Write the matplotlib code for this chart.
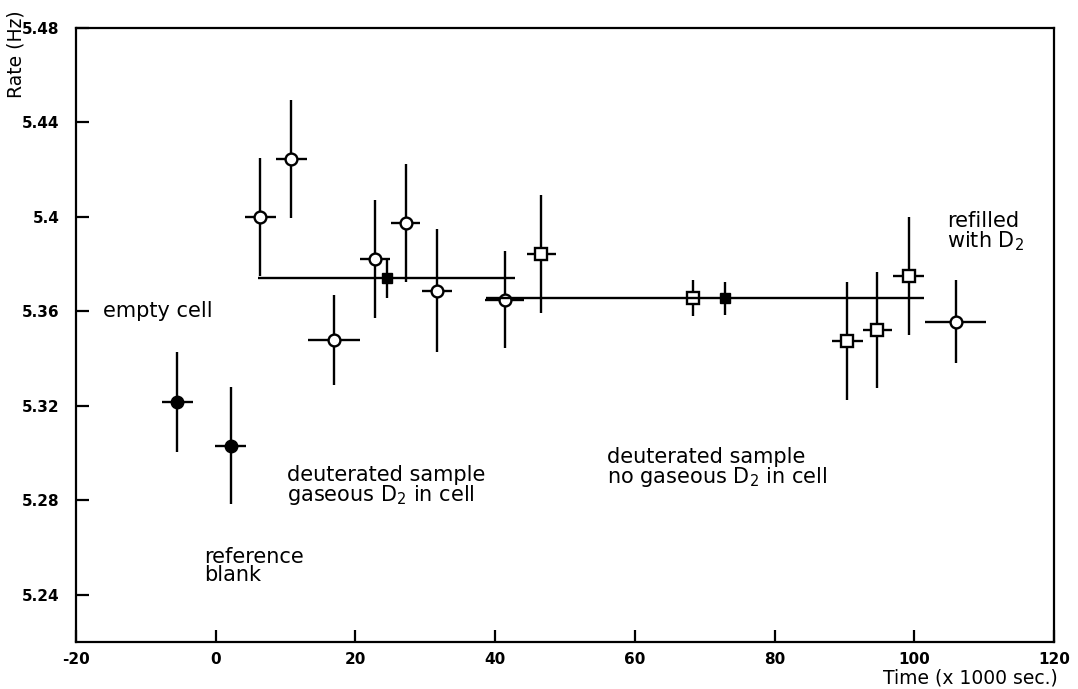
import matplotlib
matplotlib.use('Agg')
import matplotlib.pyplot as plt
import numpy as np

plt.rcParams['font.family'] = ['DejaVu Sans']
plt.rcParams['axes.unicode_minus'] = False
plt.rcParams['mathtext.default'] = 'regular'

# reference blank runs (filled)
blank_t = [-5.5, 2.15]
blank_rate = [5.3216, 5.3032]
blank_rerr = [0.021, 0.0247]
blank_terr = [2.25, 2.2]

# deuterated sample, gaseous D2 in cell (open circles)
gas_t = [6.4, 10.8, 16.9, 22.8, 27.2, 31.7, 41.4]
gas_rate = [5.400, 5.4245, 5.348, 5.3822, 5.3975, 5.3687, 5.3649]
gas_rerr = [0.025, 0.0248, 0.019, 0.025, 0.025, 0.026, 0.0205]
gas_terr = [2.2, 2.2, 3.75, 2.1, 2.1, 2.1, 2.8]

# deuterated sample, no gaseous D2 (open squares)
nogas_t = [46.6, 68.3, 90.4, 94.7, 99.2]
nogas_rate = [5.3843, 5.3657, 5.3473, 5.3522, 5.375]
nogas_rerr = [0.025, 0.0078, 0.025, 0.0246, 0.025]
nogas_terr = [2.1, 1.0, 2.2, 2.1, 2.2]

# refilled with D2
refill_t = [105.9]
refill_rate = [5.3557]
refill_rerr = [0.0176]
refill_terr = [4.3]

# period averages, horizontal bar spans the period
avg_t = [24.5, 72.9]
avg_rate = [5.374, 5.3655]
avg_rerr = [0.0085, 0.007]
avg_lo = [6.0, 38.7]
avg_hi = [42.8, 101.4]

fig = plt.figure(figsize=(10.78, 6.89), dpi=100)
ax = fig.add_axes([76 / 1078, 1 - 642 / 689, 978 / 1078, 614 / 689])

err_kw = dict(ecolor='black', elinewidth=1.7, capsize=0, linestyle='none')

ax.errorbar(blank_t, blank_rate, yerr=blank_rerr, xerr=blank_terr,
            fmt='o', ms=9, mfc='black', mec='black', **err_kw)
ax.errorbar(gas_t, gas_rate, yerr=gas_rerr, xerr=gas_terr,
            fmt='o', ms=8.5, mfc='white', mec='black', mew=1.7, zorder=3, **err_kw)
ax.errorbar(nogas_t, nogas_rate, yerr=nogas_rerr, xerr=nogas_terr,
            fmt='s', ms=8, mfc='white', mec='black', mew=1.7, zorder=3, **err_kw)
ax.errorbar(refill_t, refill_rate, yerr=refill_rerr, xerr=refill_terr,
            fmt='o', ms=8.5, mfc='white', mec='black', mew=1.7, zorder=3, **err_kw)

avg_xerr = [np.array(avg_t) - np.array(avg_lo), np.array(avg_hi) - np.array(avg_t)]
ax.errorbar(avg_t, avg_rate, yerr=avg_rerr, xerr=avg_xerr,
            fmt='s', ms=6.5, mfc='black', mec='black', zorder=4, **err_kw)

ax.set_xlim(-20, 120)
ax.set_ylim(5.22, 5.48)
ax.set_xticks(np.arange(-20, 121, 20))
ax.set_yticks([5.24, 5.28, 5.32, 5.36, 5.40, 5.44, 5.48])
ax.set_yticklabels(['5.24', '5.28', '5.32', '5.36', '5.4', '5.44', '5.48'])
ax.tick_params(direction='in', length=9, width=1.6, labelsize=11, top=False, right=False)
ax.tick_params(axis='y', pad=12)
ax.tick_params(axis='x', pad=7)
for lab in ax.get_xticklabels() + ax.get_yticklabels():
    lab.set_fontweight('bold')
for sp in ax.spines.values():
    sp.set_linewidth(1.6)

txt = dict(fontsize=15, ha='left', va='center', linespacing=0.9)
ax.text(-16.1, 5.36, 'empty cell', **txt)
ax.text(10.2, 5.286, 'deuterated sample\ngaseous D$_2$ in cell', **txt)
ax.text(56.0, 5.2937, 'deuterated sample\nno gaseous D$_2$ in cell', **txt)
ax.text(-1.7, 5.2522, 'reference\nblank', **txt)
ax.text(104.7, 5.3936, 'refilled\nwith D$_2$', **txt)

fig.text(16 / 1078, 1 - 54 / 689, 'Rate (Hz)', rotation=90, fontsize=13.5,
         ha='center', va='center')
fig.text(1058 / 1078, 1 - 678 / 689, 'Time (x 1000 sec.)', fontsize=13.5,
         ha='right', va='center')

fig.savefig('out.png', dpi=100, facecolor='white')
